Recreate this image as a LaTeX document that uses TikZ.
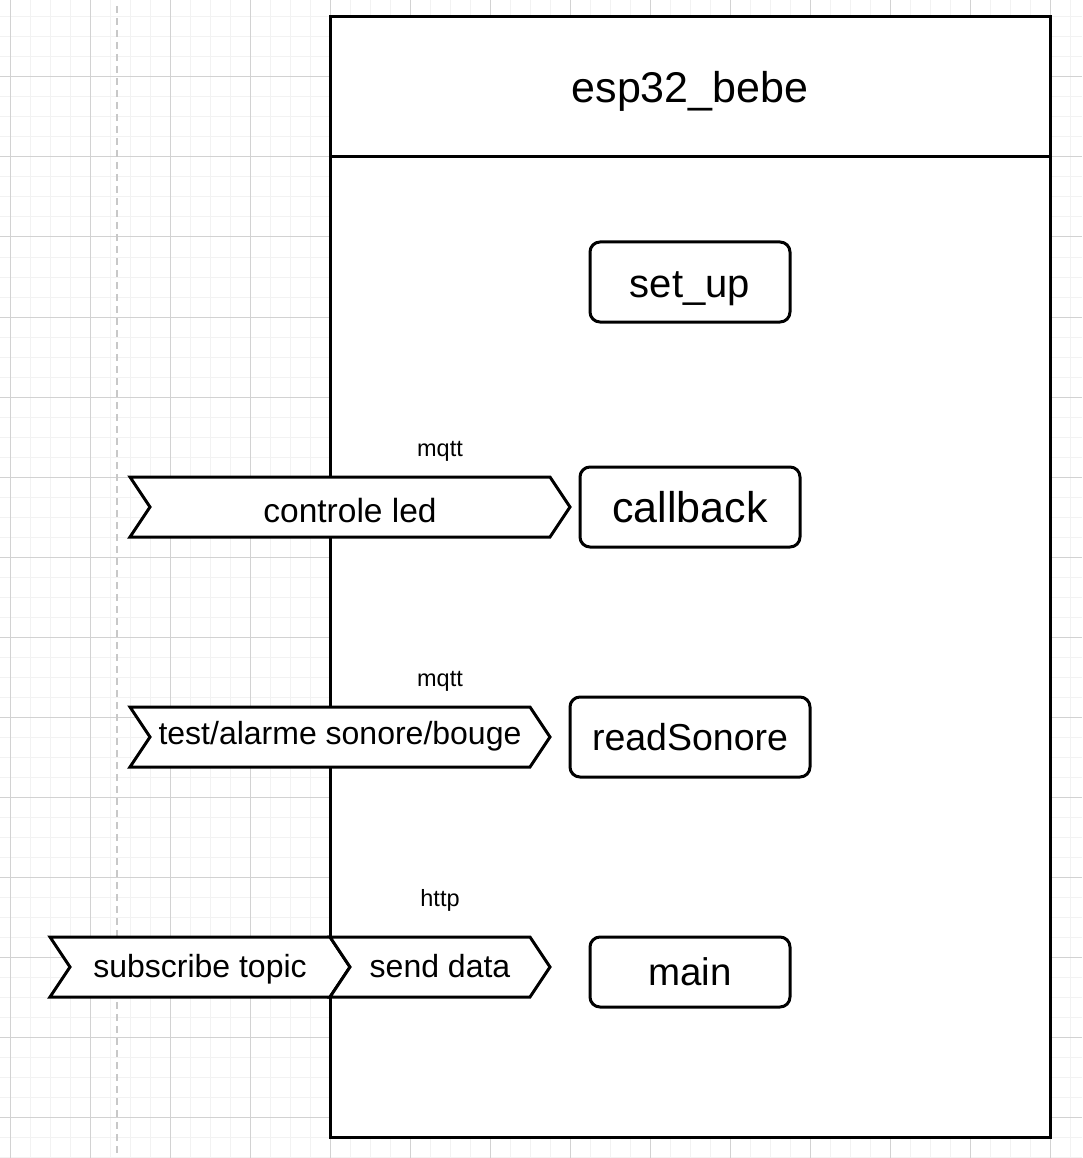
\documentclass[tikz,border=0pt]{standalone}
\usepackage{fontspec}
\setmainfont{Liberation Sans}
\usepackage{tikz}

\definecolor{gridminor}{RGB}{242,242,242}
\definecolor{gridmajor}{RGB}{210,210,210}
\definecolor{lifeline}{RGB}{200,200,200}

\tikzset{
    every node/.append style={text depth=0pt},
    box/.style={draw, line width=3pt, fill=white, inner sep=0pt},
    proc/.style={draw, line width=3pt, fill=white, rounded corners=10pt, inner sep=0pt},
    chev/.style={draw, line width=3pt, fill=white, line join=miter},
    topic/.style={font=\fontsize{32}{38}\selectfont},
    proto/.style={font=\fontsize{23.5}{28}\selectfont}
}

\begin{document}
\begin{tikzpicture}[x=1pt, y=-1pt]

    \useasboundingbox (0,0) rectangle (1082,1158);
    \fill[white] (0,0) rectangle (1082,1158);

    % grid
    \foreach \x in {10,30,...,1070} \draw[gridminor, line width=1pt] (\x,0) -- (\x,1158);
    \foreach \y in {17,37,...,1157} \draw[gridminor, line width=1pt] (0,\y) -- (1082,\y);
    \foreach \x in {10,90,...,1050} \draw[gridmajor, line width=1pt] (\x,0) -- (\x,1158);
    \foreach \y in {77,157,...,1117} \draw[gridmajor, line width=1pt] (0,\y) -- (1082,\y);

    \draw[lifeline, line width=2pt, dash pattern=on 7pt off 5pt] (117,6) -- (117,1158);

    % esp32 box
    \node[box, minimum width=720pt, minimum height=1120pt] (esp) at (690,577) {};
    \draw[line width=3pt] (330,157) -- (1050,157);
    \node[font=\fontsize{43}{50}\selectfont] (title) at (690,87) {esp32\_bebe};

    \node[proc, minimum width=200pt, minimum height=80pt, text height=30pt, font=\fontsize{40}{46}\selectfont] (setup) at (690,282) {set\_up};
    \node[proc, minimum width=220pt, minimum height=80pt, font=\fontsize{43}{50}\selectfont] (callback) at (690,507) {callback};
    \node[proc, minimum width=240pt, minimum height=80pt, font=\fontsize{37.5}{44}\selectfont] (read) at (690,737) {readSonore};
    \node[proc, minimum width=200pt, minimum height=70pt, font=\fontsize{38.5}{45}\selectfont] (main) at (690,972) {main};

    % topics
    \draw[chev] (130,477) -- (550,477) -- (570,507) -- (550,537) -- (130,537) -- (150,507) -- cycle;
    \node[font=\fontsize{33.5}{40}\selectfont] (led) at (350,510) {controle led};
    \node[proto] (mqtta) at (440,449) {mqtt};

    \draw[chev] (130,707) -- (530,707) -- (550,737) -- (530,767) -- (130,767) -- (150,737) -- cycle;
    \node[topic] (alarme) at (340,733) {test/alarme sonore/bouge};
    \node[proto] (mqttb) at (440,679) {mqtt};

    \draw[chev] (50,937) -- (330,937) -- (350,967) -- (330,997) -- (50,997) -- (70,967) -- cycle;
    \node[topic] (sub) at (200,966) {subscribe topic};
    \draw[chev] (330,937) -- (530,937) -- (550,967) -- (530,997) -- (330,997) -- (350,967) -- cycle;
    \node[topic] (send) at (440,966) {send data};
    \node[proto] (http) at (440,898) {http};

\end{tikzpicture}
\end{document}
